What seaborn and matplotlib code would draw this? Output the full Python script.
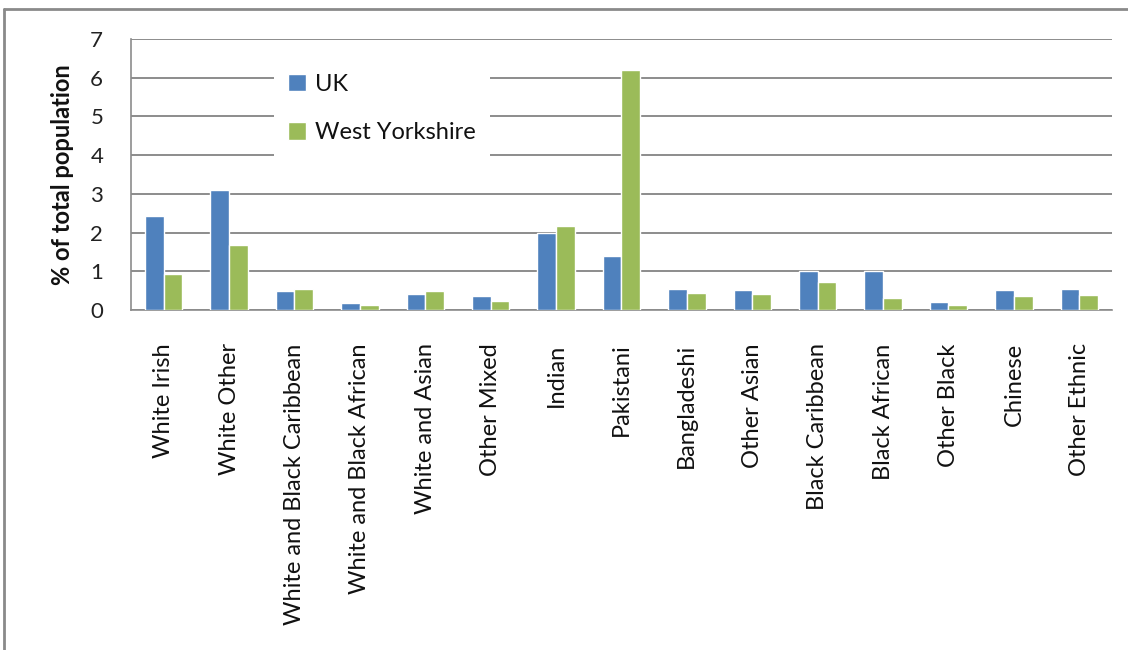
import matplotlib
matplotlib.use("Agg")
import matplotlib.pyplot as plt
from matplotlib.lines import Line2D
import pandas as pd
import seaborn as sns

categories = ["White Irish", "White Other", "White and Black Caribbean",
              "White and Black African", "White and Asian", "Other Mixed",
              "Indian", "Pakistani", "Bangladeshi", "Other Asian",
              "Black Caribbean", "Black African", "Other Black", "Chinese",
              "Other Ethnic"]
uk = [2.44, 3.1, 0.49, 0.18, 0.41, 0.35, 2.0, 1.4, 0.55, 0.51, 1.0, 1.0, 0.21, 0.51, 0.55]
west_yorkshire = [0.92, 1.67, 0.54, 0.12, 0.48, 0.24, 2.16, 6.2, 0.44, 0.41, 0.71, 0.32, 0.12, 0.35, 0.38]
series_names = ["UK", "West Yorkshire"]
series_colors = ["#4F81BD", "#9BBB59"]
y_ticks = [0, 1, 2, 3, 4, 5, 6, 7]

df = pd.DataFrame({
    "Category": categories * 2,
    "Value": uk + west_yorkshire,
    "Series": [series_names[0]] * len(categories) + [series_names[1]] * len(categories),
})

sns.set_theme(style="white")
plt.rcParams["font.family"] = ["Lato", "DejaVu Sans"]

fig = plt.figure(figsize=(11.28, 6.5), dpi=100)
ax = fig.add_axes([0.1161, 0.5231, 0.8697, 0.4169])

grid_color = "#8C8C8C"
sns.barplot(data=df, x="Category", y="Value", hue="Series", order=categories,
            hue_order=series_names, palette=series_colors, width=0.57,
            gap=0, saturation=1, ax=ax, zorder=3, legend=True)

ax.set_ylim(0, 7)
ax.set_xlim(-0.5, len(categories) - 0.5)
ax.set_yticks(y_ticks)
ax.set_yticklabels([str(t) for t in y_ticks], fontsize=16, color="#222222")
ax.set_xticks(range(len(categories)))
ax.set_xticklabels(categories, rotation=90, fontsize=17, color="#111111")
ax.set_xticks([i - 0.5 for i in range(len(categories) + 1)], minor=True)
ax.tick_params(axis="x", which="major", length=0, pad=24)
ax.tick_params(axis="x", which="minor", length=6, width=1.2, color=grid_color, direction="out")
ax.tick_params(axis="y", which="major", length=6, width=1.2, color=grid_color,
               direction="out", pad=14)
ax.yaxis.grid(True, color=grid_color, linewidth=1.4, zorder=0)
ax.set_axisbelow(True)
for side in ["top", "right"]:
    ax.spines[side].set_visible(False)
for side in ["left", "bottom"]:
    ax.spines[side].set_color(grid_color)
    ax.spines[side].set_linewidth(1.2)

ax.set_xlabel("")
ax.set_ylabel("% of total population", fontsize=17, fontweight="bold",
              color="#111111", labelpad=12)

handles, labels = ax.get_legend_handles_labels()
leg = ax.legend(handles, labels, loc="upper left", bbox_to_anchor=(262 / 1128, 1 - 48 / 650),
                bbox_transform=fig.transFigure, frameon=True, fancybox=False,
                edgecolor="none", facecolor="white", framealpha=1,
                fontsize=17, handlelength=0.75, handleheight=0.75,
                handletextpad=0.4, labelspacing=1.15, borderpad=0.6)
for t in leg.get_texts():
    t.set_color("#111111")

# outer chart frame
border = "#8A8A8A"
fig.add_artist(Line2D([4 / 1128, 1.0], [1 - 9 / 650, 1 - 9 / 650], color=border,
                      linewidth=2, transform=fig.transFigure))
fig.add_artist(Line2D([4 / 1128, 4 / 1128], [0.0, 1 - 9 / 650], color=border,
                      linewidth=2, transform=fig.transFigure))

fig.savefig("out.png", dpi=100, facecolor="white")
